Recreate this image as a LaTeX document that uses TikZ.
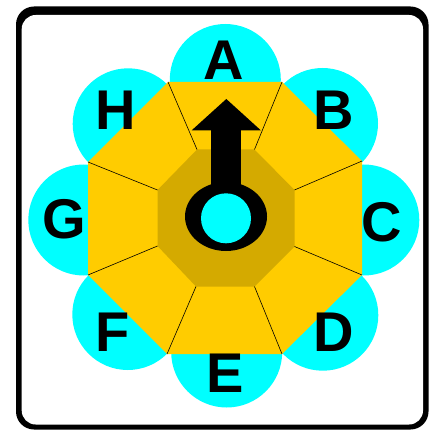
\documentclass[tikz,border=0pt]{standalone}
\usepackage{fontspec}
\setmainfont{Liberation Sans}
\definecolor{gold}{HTML}{FFCC00}
\definecolor{darkgold}{HTML}{D4AA00}
\definecolor{aqua}{HTML}{00FFFF}
\begin{document}
\begin{tikzpicture}[x=1pt,y=-1pt,
  petal/.style={fill=aqua},
  letter/.style={font=\fontsize{56}{60}\selectfont\bfseries, inner sep=0pt, text=black},
  divider/.style={draw=black, line width=0.6pt}]
\useasboundingbox (0,0) rectangle (429,430);
% frame
\fill[black, rounded corners=18pt] (16,6.5) rectangle (428.5,429.5);
\fill[white, rounded corners=14pt] (21.7,15) rectangle (423,424.5);
% petals
\fill[petal] (225.3,79.5) circle[radius=55.5pt];
\fill[petal] (322.5,123.5) circle[radius=55.5pt];
\fill[petal] (363.8,220) circle[radius=55.5pt];
\fill[petal] (322.8,315.2) circle[radius=55.5pt];
\fill[petal] (226.7,352) circle[radius=55.5pt];
\fill[petal] (127.8,314.5) circle[radius=55.5pt];
\fill[petal] (83.8,220) circle[radius=55.5pt];
\fill[petal] (128.2,123.8) circle[radius=55.5pt];
% octagon vertices
\coordinate (o1) at (168,82);
\coordinate (o2) at (282,82);
\coordinate (o3) at (362,161);
\coordinate (o4) at (362,275);
\coordinate (o5) at (282,354);
\coordinate (o6) at (167,354);
\coordinate (o7) at (88,275);
\coordinate (o8) at (88,162);
\coordinate (i1) at (197,149.5);
\coordinate (i2) at (254.5,149.5);
\coordinate (i3) at (294.5,190);
\coordinate (i4) at (294.5,246.5);
\coordinate (i5) at (254.5,286.5);
\coordinate (i6) at (196,286.5);
\coordinate (i7) at (157.5,246);
\coordinate (i8) at (157.5,190);
\fill[gold] (o1) -- (o2) -- (o3) -- (o4) -- (o5) -- (o6) -- (o7) -- (o8) -- cycle;
\fill[darkgold] (i1) -- (i2) -- (i3) -- (i4) -- (i5) -- (i6) -- (i7) -- (i8) -- cycle;
\foreach \k in {1,...,8} {\draw[divider] (i\k) -- (o\k);}
% key
\fill[black] (226,216.5) ellipse [x radius=41pt, y radius=34.5pt];
\fill[black] (210.5,129) rectangle (241,200);
\fill[black] (226.3,99) -- (261,130.5) -- (191.5,130.5) -- cycle;
\fill[aqua] (226,218.3) circle[radius=25pt];
% letters
\node[letter] (A) at (223.5,60) {A};
\node[letter] (B) at (334,110) {B};
\node[letter] (C) at (381.5,222) {C};
\node[letter] (D) at (334,332) {D};
\node[letter] (E) at (225.5,373.3) {E};
\node[letter] (F) at (113,332) {F};
\node[letter] (G) at (64.5,219.5) {G};
\node[letter] (H) at (116,110) {H};
\end{tikzpicture}
\end{document}
